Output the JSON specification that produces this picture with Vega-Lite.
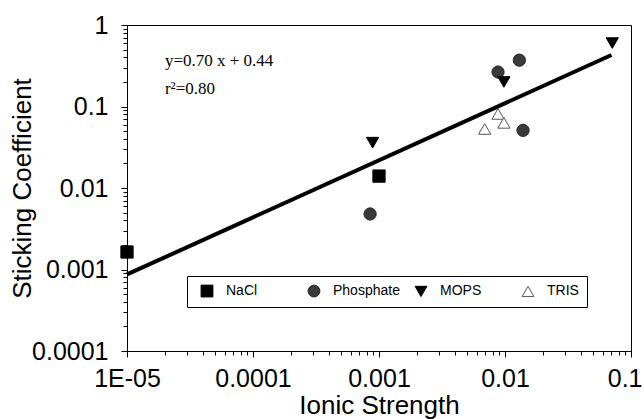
{
  "$schema": "https://vega.github.io/schema/vega-lite/v6.json",
  "width": 504,
  "height": 326,
  "autosize": {"type": "none"},
  "padding": {"left": 127, "top": 25, "right": 13, "bottom": 68},
  "background": "white",
  "config": {
    "view": {"stroke": "#000", "strokeWidth": 1},
    "font": "Liberation Sans",
    "axis": {
      "grid": false,
      "ticks": true,
      "domainColor": "#000",
      "tickColor": "#000",
      "tickWidth": 1,
      "tickOpacity": 1,
      "labelColor": "#000",
      "titleColor": "#000",
      "labelFont": "Liberation Sans",
      "titleFont": "Liberation Sans",
      "labelFontSize": 25,
      "titleFontSize": 26,
      "titleFontWeight": "normal"
    },
    "legend": {
      "title": null,
      "symbolSize": 140, "symbolStrokeWidth": 1, "symbolOffset": 5,
      "labelFont": "Liberation Sans", "labelFontSize": 14, "labelColor": "#000",
      "labelOffset": 12, "columnPadding": 9, "padding": 8,
      "strokeColor": "#000", "fillColor": "white"
    }
  },
  "layer": [
    {
      "data": {"values": [{"I": 0.00001, "S": 0.00087}, {"I": 0.07, "S": 0.428}]},
      "mark": {"type": "line", "color": "#000", "strokeWidth": 4},
      "encoding": {
        "x": {"field": "I", "type": "quantitative"},
        "y": {"field": "S", "type": "quantitative"}
      }
    },
    {
      "data": {"values": [
        {"Buffer": "NaCl", "I": 0.00001, "S": 0.00164},
        {"Buffer": "NaCl", "I": 0.001, "S": 0.014},
        {"Buffer": "Phosphate", "I": 0.00085, "S": 0.0048},
        {"Buffer": "Phosphate", "I": 0.0088, "S": 0.265},
        {"Buffer": "Phosphate", "I": 0.013, "S": 0.37},
        {"Buffer": "Phosphate", "I": 0.0139, "S": 0.051},
        {"Buffer": "MOPS", "I": 0.00089, "S": 0.036},
        {"Buffer": "MOPS", "I": 0.0098, "S": 0.2},
        {"Buffer": "MOPS", "I": 0.071, "S": 0.6},
        {"Buffer": "TRIS", "I": 0.0069, "S": 0.053},
        {"Buffer": "TRIS", "I": 0.0088, "S": 0.081},
        {"Buffer": "TRIS", "I": 0.0098, "S": 0.063}
      ]},
      "mark": {"type": "point", "size": 150, "strokeWidth": 1, "opacity": 1, "fillOpacity": 1},
      "encoding": {
        "x": {
          "field": "I", "type": "quantitative",
          "scale": {"type": "log", "domain": [0.00001, 0.1], "nice": false},
          "axis": {
            "orient": "bottom", "title": "Ionic Strength",
            "values": [0.00001,0.00002,0.00003,0.00004,0.00005,0.00006,0.00007,0.00008,0.00009,
                       0.0001,0.0002,0.0003,0.0004,0.0005,0.0006,0.0007,0.0008,0.0009,
                       0.001,0.002,0.003,0.004,0.005,0.006,0.007,0.008,0.009,
                       0.01,0.02,0.03,0.04,0.05,0.06,0.07,0.08,0.09,0.1],
            "labelExpr": "abs(log(datum.value)/LN10 - round(log(datum.value)/LN10)) > 0.01 ? '' : (datum.value < 0.00002 ? '1E-05' : toString(datum.value))",
            "tickSize": {"condition": {"test": "abs(log(datum.value)/LN10 - round(log(datum.value)/LN10)) > 0.01", "value": 4}, "value": 6},
            "labelAlign": {"condition": {"test": "datum.value > 0.05", "value": "right"}, "value": "center"},
            "labelOffset": {"condition": {"test": "datum.value > 0.05", "value": 11}, "value": 0},
            "labelPadding": 9, "titlePadding": 1, "labelFlush": false, "labelOverlap": false
          }
        },
        "y": {
          "field": "S", "type": "quantitative",
          "scale": {"type": "log", "domain": [0.0001, 1], "nice": false},
          "axis": {
            "orient": "left", "title": "Sticking Coefficient",
            "values": [0.0001,0.0002,0.0003,0.0004,0.0005,0.0006,0.0007,0.0008,0.0009,
                       0.001,0.002,0.003,0.004,0.005,0.006,0.007,0.008,0.009,
                       0.01,0.02,0.03,0.04,0.05,0.06,0.07,0.08,0.09,
                       0.1,0.2,0.3,0.4,0.5,0.6,0.7,0.8,0.9,1],
            "labelExpr": "abs(log(datum.value)/LN10 - round(log(datum.value)/LN10)) > 0.01 ? '' : toString(datum.value)",
            "tickSize": {"condition": {"test": "abs(log(datum.value)/LN10 - round(log(datum.value)/LN10)) > 0.01", "value": 4}, "value": 6},
            "labelPadding": 13, "titlePadding": -4, "labelFlush": false, "labelOverlap": false
          }
        },
        "shape": {
          "field": "Buffer", "type": "nominal",
          "scale": {"domain": ["NaCl", "Phosphate", "MOPS", "TRIS"], "range": ["square", "circle", "triangle-down", "triangle-up"]},
          "legend": {
            "orient": "none", "legendX": 60, "legendY": 251,
            "direction": "horizontal", "columns": 4, "gridAlign": "all",
            "labelExpr": "datum.label == 'TRIS' ? 'TRIS\u00a0\u00a0\u00a0\u00a0\u00a0\u00a0\u00a0' : datum.label"
          }
        },
        "fill": {
          "field": "Buffer", "type": "nominal",
          "scale": {"domain": ["NaCl", "Phosphate", "MOPS", "TRIS"], "range": ["#000000", "#3a3a3a", "#000000", "#ffffff"]},
          "legend": {
            "orient": "none", "legendX": 60, "legendY": 251,
            "direction": "horizontal", "columns": 4, "gridAlign": "all",
            "labelExpr": "datum.label == 'TRIS' ? 'TRIS\u00a0\u00a0\u00a0\u00a0\u00a0\u00a0\u00a0' : datum.label"
          }
        },
        "stroke": {
          "field": "Buffer", "type": "nominal",
          "scale": {"domain": ["NaCl", "Phosphate", "MOPS", "TRIS"], "range": ["#000000", "#222222", "#000000", "#555555"]},
          "legend": {
            "orient": "none", "legendX": 60, "legendY": 251,
            "direction": "horizontal", "columns": 4, "gridAlign": "all",
            "labelExpr": "datum.label == 'TRIS' ? 'TRIS\u00a0\u00a0\u00a0\u00a0\u00a0\u00a0\u00a0' : datum.label"
          }
        }
      }
    },
    {
      "data": {"values": [
        {"I": 0.00002, "S": 0.36, "label": "y=0.70 x + 0.44"},
        {"I": 0.00002, "S": 0.165, "label": "r²=0.80"}
      ]},
      "mark": {"type": "text", "align": "left", "baseline": "middle", "font": "Liberation Serif", "fontSize": 17, "color": "#000"},
      "encoding": {
        "x": {"field": "I", "type": "quantitative"},
        "y": {"field": "S", "type": "quantitative"},
        "text": {"field": "label", "type": "nominal"}
      }
    }
  ]
}
